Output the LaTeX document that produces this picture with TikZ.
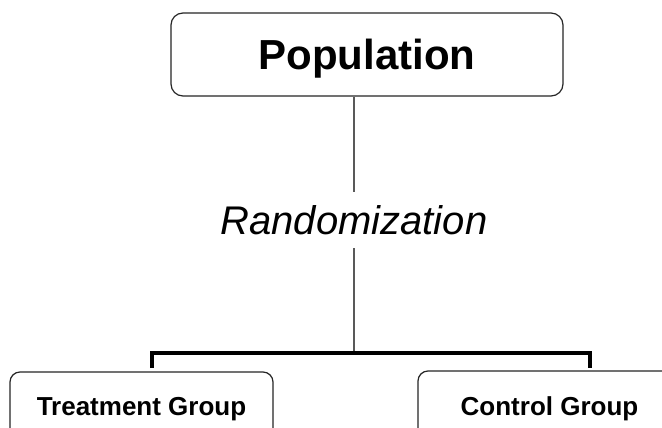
\documentclass[tikz,border=0pt]{standalone}
\usepackage{fontspec}
\setmainfont{Liberation Sans}
\begin{document}
\begin{tikzpicture}[x=1pt,y=-1pt,
  roundbox/.style={draw=black!85,line width=1.2pt,rounded corners=#1,inner sep=0pt,fill=white},
  roundbox/.default=10pt,
  stem/.style={draw=black!65,line width=2pt},
  bracketline/.style={draw=black,line width=4pt,line join=miter},
  bigtitle/.style={font=\fontsize{42}{50}\selectfont\bfseries,text depth=0pt},
  steplabel/.style={font=\fontsize{40}{48}\selectfont\itshape},
  grouplabel/.style={font=\fontsize{26}{31}\selectfont\bfseries}]
  \useasboundingbox (0,0) rectangle (662,428);
  \clip (0,0) rectangle (662,428);
  \fill[white] (0,0) rectangle (662,428);

  % top box
  \node[roundbox=12pt,bigtitle,minimum width=392pt,minimum height=83pt] (pop) at (367,54.5) {Population};

  % label on the stem
  \node[steplabel,inner sep=0pt,minimum height=56pt] (rnd) at (354,220) {Randomization};

  % group boxes (partly outside the frame)
  \node[roundbox,grouplabel,minimum width=263pt,minimum height=75pt] (trt) at (141.5,409.5) {Treatment Group};
  \node[roundbox,grouplabel,minimum width=263pt,minimum height=75pt] (ctl) at (549.5,408.5) {Control Group};

  % bracket points
  \coordinate (bar) at (354,353);
  \coordinate (lt) at (152,368);
  \coordinate (rt) at (590,368);

  % stem
  \draw[stem] (rnd.north) -- (rnd.north |- pop.south);
  \draw[stem] (rnd.south) -- (bar);

  % bracket
  \draw[bracketline] (lt) -- (lt |- bar) -- (rt |- bar) -- (rt);
\end{tikzpicture}
\end{document}
